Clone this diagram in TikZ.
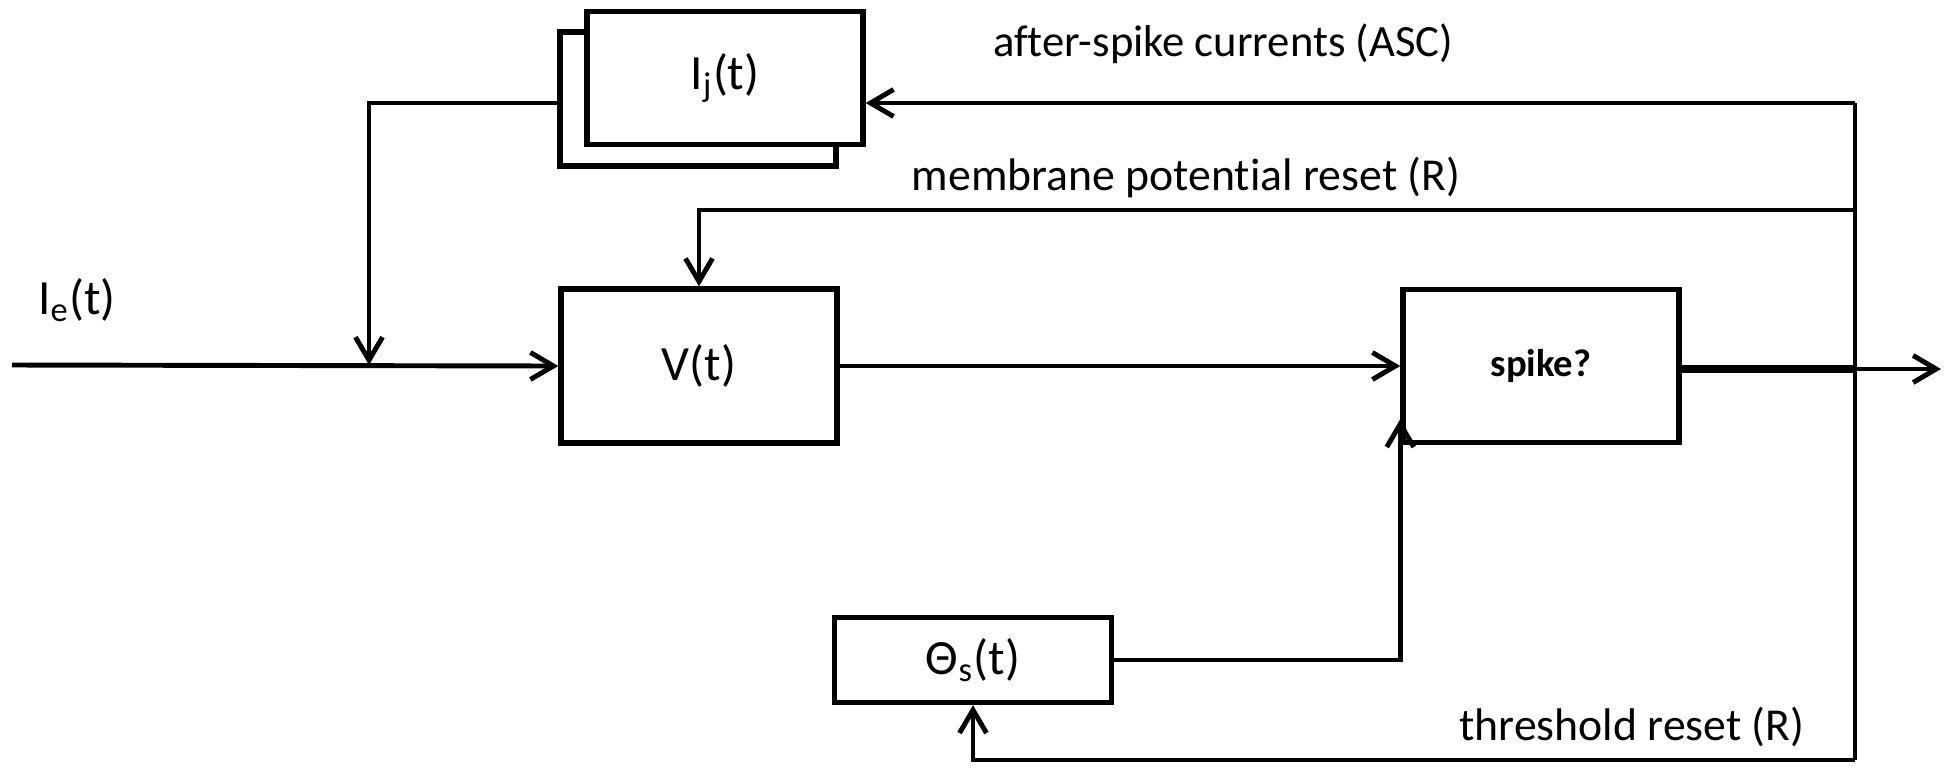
\documentclass[tikz,border=0pt]{standalone}
\usepackage{fontspec}
\setmainfont{Carlito}[Ligatures=NoCommon]
\usetikzlibrary{arrows.meta,positioning}

\begin{document}
\begin{tikzpicture}[x=0.01cm, y=-0.01cm, >={Straight Barb[length=2.3mm,width=2.7mm]},
  blockbox/.style={draw, line width=1.5pt, fill=white, minimum width=2.76cm,
    inner sep=0pt, font=\fontsize{14}{16}\selectfont},
  flow/.style={line width=1.4pt},
  lbl/.style={font=\fontsize{13}{15}\selectfont}]
  \useasboundingbox (0,0) rectangle (1954,769);
  % --- blocks ---
  \node[blockbox, minimum height=1.34cm] (ijback) at (698,99) {};
  \node[blockbox, minimum height=1.33cm] (ij) at (725,78) {I\textsubscript{j}(t)};
  \node[blockbox, minimum height=1.54cm] (v) at (699,366) {V(t)};
  \node[blockbox, minimum height=1.53cm, font=\bfseries\fontsize{11}{13}\selectfont] (spike) at (1541,366) {spike?};
  \node[blockbox, minimum width=2.77cm, minimum height=0.85cm] (theta) at (973,660) {Θ\textsubscript{s}(t)};
  % --- free ends and branch points ---
  \coordinate (in) at (12,365);
  \coordinate (join) at (369,365);
  \coordinate (tap) at (1855,369);
  \coordinate (out) at (1941,369);
  \coordinate (asc) at (1855,103);
  \coordinate (reset) at (1855,210);
  \coordinate (thr) at (1855,760);
  % --- forward path ---
  \draw[flow,->] (in) -- (v.west);
  \draw[flow,->] (ijback.west |- asc) -| (join);
  \draw[flow,->] (v.east) -- (spike.west);
  \draw[flow,->] (theta.east) -| ([yshift=0.26cm]spike.south west);
  \draw[line width=2.3pt] (spike.east |- tap) -- (tap);
  \draw[flow,->] (tap) -- (out);
  % --- feedback ---
  \draw[flow] (asc) -- (thr);
  \draw[flow,->] (asc) -- (ij.east |- asc);
  \draw[flow,->] (reset) -| (v.north);
  \draw[flow,->] (thr) -| (theta.south);
  % --- labels ---
  \node[font=\fontsize{14}{16}\selectfont] (ielbl) at (77,300) {I\textsubscript{e}(t)};
  \node[lbl, font=\fontsize{12.7}{15}\selectfont] (asclbl) at (1223,44) {after-spike currents (ASC)};
  \node[lbl] (vlbl) at (1186,177) {membrane potential reset (R)};
  \node[lbl] (thlbl) at (1632,727) {threshold reset (R)};
\end{tikzpicture}
\end{document}
